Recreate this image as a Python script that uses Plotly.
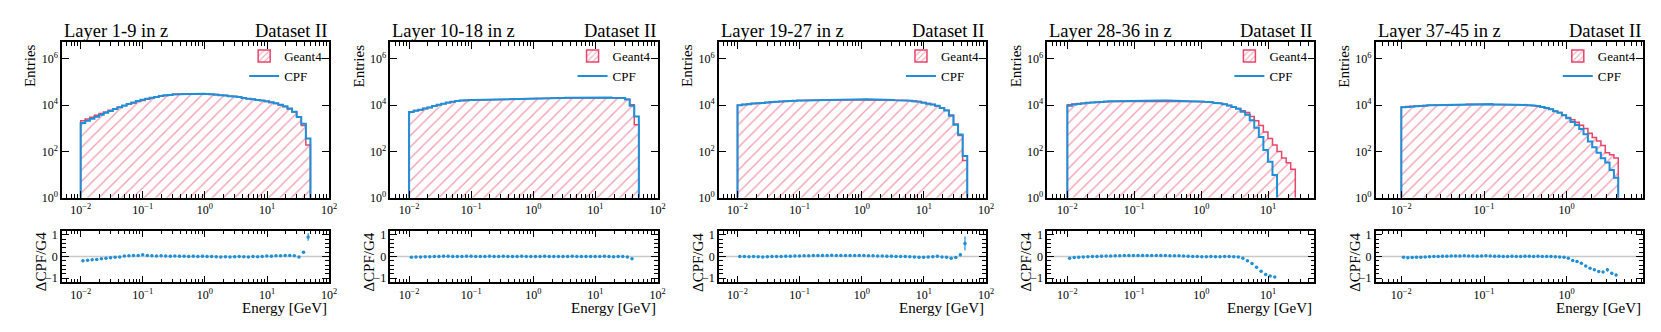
import numpy as np
import plotly.graph_objects as go

# energy spectra per group of 9 layers, Geant4 vs CPF (dataset II)
layer_titles = ["Layer 1-9 in z", "Layer 10-18 in z", "Layer 19-27 in z",
                "Layer 28-36 in z", "Layer 37-45 in z"]
dataset_label = "Dataset II"

e_min = 0.01                      # GeV, lower edge of the binning
e_max = [50, 50, 50, 25.4, 4.2]   # GeV, upper edge of the binning per panel
n_bins = 50
x_ranges = [[-2.3, 2.0], [-2.3, 2.0], [-2.3, 2.0], [-2.3, 1.69], [-2.31, 0.92]]

# Geant4 entries per bin
g4_layer1 = [2100, 2500, 3000, 3600, 4300, 5000, 5900, 6900, 8100, 9300,
             10700, 12300, 14100, 15800, 17800, 20000, 21900, 24000, 25700, 26900,
             28200, 28800, 29500, 30200, 30200, 30200, 30000, 29500, 28800, 28200,
             26900, 25700, 24500, 23400, 21900, 20400, 19100, 17800, 16600, 15500,
             14100, 12900, 11500, 10000, 8500, 6800, 5000, 3100, 1300, 190]
g4_layer10 = [5100, 5800, 6300, 7100, 7900, 9100, 10200, 11200, 12600, 13800,
              14800, 15500, 15800, 16200, 16600, 16600, 17000, 17000, 17400, 17400,
              17800, 17800, 18200, 18200, 18600, 18600, 19100, 19100, 19500, 19500,
              19500, 20000, 20000, 20000, 20400, 20400, 20400, 20400, 20900, 20900,
              20900, 20900, 20900, 20900, 20900, 20400, 20000, 17800, 10200, 1400]
g4_layer19 = [9800, 10500, 11000, 11500, 12000, 12600, 12900, 13500, 13800, 14100,
              14500, 14800, 15100, 15500, 15500, 15800, 15800, 16200, 16200, 16600,
              16600, 16600, 17000, 17000, 17000, 17000, 17000, 17000, 17000, 16600,
              16600, 16600, 16200, 16200, 16200, 16200, 15800, 15500, 14800, 14100,
              12900, 11700, 10500, 9100, 7600, 6000, 3700, 1500, 490, 40]
g4_layer28 = [10200, 11000, 11500, 12000, 12600, 12900, 13200, 13500, 13800, 14100,
              14100, 14500, 14500, 14800, 14800, 15100, 15100, 15100, 15100, 15100,
              15100, 15100, 15100, 15100, 15100, 14800, 14800, 14500, 14500, 14100,
              13800, 13200, 12600, 11700, 10700, 9500, 8300, 7100, 5600, 4700,
              3200, 2100, 1300, 680, 360, 190, 100, 52, 32, 17]
g4_layer37 = [8300, 8700, 8900, 9100, 9300, 9500, 9800, 9800, 10000, 10000,
              10200, 10200, 10500, 10500, 10500, 10700, 10700, 10700, 10700, 10700,
              10700, 10700, 10700, 10700, 10700, 10500, 10500, 10200, 10000, 9800,
              9300, 8900, 8300, 7400, 6500, 5500, 4700, 3700, 2900, 2300,
              1800, 1350, 980, 600, 400, 280, 180, 87, 71, 52]

# relative difference (CPF - G4) / G4 per bin, None where not shown
ratio_layer1 = [-0.20, -0.17, -0.15, -0.14, -0.11, -0.08, -0.06, -0.03, -0.02, 0.02,
                0.03, 0.05, 0.05, 0.08, 0.05, 0.03, 0.02, 0.03, 0.02, 0.01,
                0.02, 0.01, 0.01, 0.00, 0.01, 0.00, 0.01, 0.00, 0.00, -0.01,
                -0.02, -0.01, -0.02, -0.01, 0.00, -0.01, -0.02, 0.00, -0.01, 0.00,
                0.02, 0.01, 0.03, 0.03, 0.04, 0.04, 0.03, -0.02, 0.20, 0.90]
ratio_layer10 = [-0.03, -0.02, -0.02, -0.01, -0.01, 0.00, 0.00, 0.01, 0.01, 0.00,
                 0.00, 0.00, 0.01, 0.01, 0.00, 0.00, 0.00, 0.01, 0.00, 0.00,
                 0.01, 0.00, 0.00, 0.00, 0.01, 0.00, 0.00, 0.00, 0.00, 0.01,
                 0.00, 0.00, 0.00, 0.00, 0.00, 0.01, 0.00, 0.00, 0.00, 0.00,
                 0.00, 0.00, 0.01, 0.00, -0.01, 0.00, 0.00, -0.02, -0.10, 1.29]
ratio_layer19 = [0.00, 0.00, -0.01, 0.00, -0.01, -0.02, -0.01, 0.00, 0.00, 0.00,
                 0.01, 0.01, 0.02, 0.02, 0.03, 0.03, 0.04, 0.04, 0.05, 0.05,
                 0.06, 0.05, 0.05, 0.05, 0.04, 0.04, 0.04, 0.04, 0.03, 0.03,
                 0.02, 0.02, 0.01, 0.01, 0.00, 0.00, 0.00, -0.01, -0.02, -0.03,
                 -0.03, -0.02, -0.01, 0.01, -0.02, -0.03, -0.08, -0.05, 0.08, 0.60]
ratio_layer28 = [-0.08, -0.05, -0.03, -0.02, -0.01, 0.00, 0.00, 0.01, 0.02, 0.02,
                 0.03, 0.03, 0.04, 0.05, 0.05, 0.05, 0.05, 0.05, 0.04, 0.04,
                 0.04, 0.04, 0.03, 0.03, 0.03, 0.02, 0.01, 0.00, 0.00, -0.01,
                 -0.01, 0.00, -0.01, -0.01, 0.00, 0.00, -0.01, -0.02, -0.08, -0.20,
                 -0.32, -0.50, -0.68, -0.83, -0.90, -0.95, None, None, None, None]
ratio_layer37 = [-0.03, -0.06, -0.05, -0.03, -0.03, -0.02, -0.01, 0.00, 0.00, 0.01,
                 0.01, 0.02, 0.02, 0.02, 0.03, 0.02, 0.02, 0.01, 0.02, 0.03,
                 0.02, 0.01, 0.01, 0.00, 0.00, 0.01, 0.00, 0.00, 0.01, 0.01,
                 0.00, 0.01, 0.00, 0.00, 0.00, -0.01, -0.02, -0.03, -0.08, -0.19,
                 -0.23, -0.31, -0.44, -0.55, -0.62, -0.69, -0.72, -0.62, -0.78, -0.86]

g4_all = [g4_layer1, g4_layer10, g4_layer19, g4_layer28, g4_layer37]
ratio_all = [ratio_layer1, ratio_layer10, ratio_layer19, ratio_layer28, ratio_layer37]

G4_COLOR = "#e8456b"
CPF_COLOR = "#1f8fd8"
FONT = "Liberation Serif, Times New Roman, serif"

W, H = 1661, 332
col_left = [54.3, 384.3, 714.3, 1044.3, 1374.3]
col_width = 268.4
main_top, main_bot = 33.3, 193.0
ratio_top, ratio_bot = 226.7, 280.0


def py(pix):
    # pixel row from the top -> paper coordinate
    return 1 - pix / H


def step_outline(edges, vals, floor=1.0):
    nz = np.nonzero(vals > 0)[0]
    last = nz[-1] + 1
    xs = np.repeat(edges[:last + 1], 2)
    ys = np.concatenate([[floor], np.repeat(vals[:last], 2), [floor]])
    return xs, ys


def pow10(k):
    return "10<sup>" + ("\u2212" + str(-k) if k < 0 else str(k)) + "</sup>"


x_major = [-2, -1, 0, 1, 2]
x_minor = [m * 10.0 ** k for k in range(-3, 3) for m in range(2, 10)]
y_major = [0, 2, 4, 6]

axis_common = dict(showline=True, linecolor="black", linewidth=1.6, mirror="allticks",
                   ticks="inside", tickcolor="black", tickwidth=1, showgrid=False,
                   zeroline=False, tickfont=dict(family=FONT, size=12, color="black"))

fig = go.Figure()
layout = {}
annotations = []
shapes = []

for p in range(5):
    edges = np.logspace(np.log10(e_min), np.log10(e_max[p]), n_bins + 1)
    centers = np.sqrt(edges[:-1] * edges[1:])
    g4 = np.array(g4_all[p], dtype=float)
    r = np.array([np.nan if v is None else v for v in ratio_all[p]], dtype=float)
    cpf = np.where(np.isnan(r), 0.0, g4 * (1 + r))
    with np.errstate(divide="ignore", invalid="ignore"):
        r_err = (1 + r) * np.sqrt(1 / cpf + 1 / g4)

    nm, nr = 2 * p + 1, 2 * p + 2
    xm, ym = ("x", "y") if nm == 1 else (f"x{nm}", f"y{nm}")
    xr, yr = f"x{nr}", f"y{nr}"
    leg = "legend" if p == 0 else f"legend{p + 1}"

    # legend entry for the hatched Geant4 histogram
    fig.add_trace(go.Bar(
        x=[None], y=[None], name="Geant4", legend=leg, xaxis=xm, yaxis=ym,
        marker=dict(color="white", line=dict(color=G4_COLOR, width=1.5),
                    pattern=dict(shape="/", fgcolor=G4_COLOR, bgcolor="white", size=5, solidity=0.25))))
    gx, gy = step_outline(edges, g4)
    fig.add_trace(go.Scatter(
        x=gx, y=gy, mode="lines", showlegend=False,
        line=dict(color=G4_COLOR, width=1.5), fill="toself", fillcolor="white",
        fillpattern=dict(shape="/", fgcolor=G4_COLOR, bgcolor="white", size=8, solidity=0.18),
        xaxis=xm, yaxis=ym, hoverinfo="skip"))
    cx, cy = step_outline(edges, cpf)
    fig.add_trace(go.Scatter(
        x=cx, y=cy, mode="lines", name="CPF", legend=leg,
        line=dict(color=CPF_COLOR, width=2), xaxis=xm, yaxis=ym, hoverinfo="skip"))
    fig.add_trace(go.Scatter(
        x=centers, y=r, mode="markers", showlegend=False,
        marker=dict(color=CPF_COLOR, size=3.5),
        error_y=dict(type="data", array=r_err, color=CPF_COLOR, thickness=1.2, width=0),
        xaxis=xr, yaxis=yr))

    dom = [col_left[p] / W, (col_left[p] + col_width) / W]
    xaxis_main = dict(axis_common, type="log", range=x_ranges[p], domain=dom, anchor=ym,
                      ticklen=7, tickvals=[10.0 ** k for k in x_major],
                      ticktext=[pow10(k) for k in x_major],
                      minor=dict(ticks="inside", ticklen=4, tickcolor="black", tickwidth=1,
                                 tickmode="array", tickvals=x_minor, showgrid=False))
    xaxis_ratio = dict(xaxis_main, anchor=yr)
    yaxis_main = dict(axis_common, type="log", range=[0, 6.7], domain=[py(main_bot), py(main_top)],
                      anchor=xm, ticklen=7, tickvals=[10.0 ** k for k in y_major],
                      ticktext=[pow10(k) for k in y_major])
    yaxis_ratio = dict(axis_common, range=[-1.2, 1.2], domain=[py(ratio_bot), py(ratio_top)],
                       anchor=xr, ticklen=7, tickvals=[-1, 0, 1], ticktext=["\u22121", "0", "1"],
                       minor=dict(ticks="inside", ticklen=4, tickcolor="black", tickwidth=1,
                                  dtick=0.2, tick0=0, showgrid=False))

    layout["xaxis" if nm == 1 else f"xaxis{nm}"] = xaxis_main
    layout["yaxis" if nm == 1 else f"yaxis{nm}"] = yaxis_main
    layout[f"xaxis{nr}"] = xaxis_ratio
    layout[f"yaxis{nr}"] = yaxis_ratio

    layout[leg] = dict(x=(col_left[p] + 183) / W, xanchor="left",
                       y=py(32), yanchor="top", bgcolor="rgba(0,0,0,0)",
                       font=dict(family=FONT, size=13, color="black"),
                       itemwidth=30, tracegroupgap=0, traceorder="normal")

    shapes.append(dict(type="line", xref=f"{xr} domain", x0=0, x1=1, yref=yr, y0=0, y1=0,
                       line=dict(color="#c8c8c8", width=1.5), layer="below"))

    annotations += [
        dict(text=layer_titles[p], x=col_left[p] / W, y=py(main_top + 1), xref="paper", yref="paper",
             xanchor="left", yanchor="bottom", showarrow=False,
             font=dict(family=FONT, size=18.5, color="black")),
        dict(text=dataset_label, x=(col_left[p] + col_width) / W, y=py(main_top + 1),
             xref="paper", yref="paper", xanchor="right", yanchor="bottom", showarrow=False,
             font=dict(family=FONT, size=18.5, color="black")),
        dict(text="Entries", x=(col_left[p] - 32) / W, y=py(main_top), xref="paper", yref="paper",
             xanchor="center", yanchor="top", textangle=-90, showarrow=False,
             font=dict(family=FONT, size=15, color="black")),
        dict(text="\u0394CPF/G4", x=(col_left[p] - 21) / W, y=py(ratio_top), xref="paper",
             yref="paper", xanchor="center", yanchor="top", textangle=-90, showarrow=False,
             font=dict(family=FONT, size=15, color="black")),
        dict(text="Energy [GeV]", x=(col_left[p] + col_width) / W, y=py(306.5), xref="paper",
             yref="paper", xanchor="right", yanchor="middle", showarrow=False,
             font=dict(family=FONT, size=15, color="black")),
    ]

fig.update_layout(width=W, height=H, margin=dict(l=0, r=0, t=0, b=0),
                  plot_bgcolor="white", paper_bgcolor="white",
                  annotations=annotations, shapes=shapes, **layout)

fig.write_html("out.html")
